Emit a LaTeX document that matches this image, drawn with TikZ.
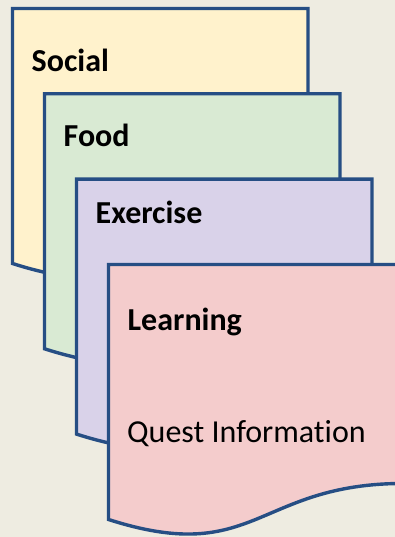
\documentclass[tikz,border=0pt]{standalone}
\usepackage{fontspec}
\newfontfamily\carlfont[Ligatures=CommonOff]{Carlito}
\definecolor{bgc}{HTML}{EEECE1}
\definecolor{edgec}{RGB}{38,78,132}
\definecolor{cyel}{HTML}{FFF2CC}
\definecolor{cgrn}{HTML}{D9EAD3}
\definecolor{cpur}{HTML}{D9D2E9}
\definecolor{cpnk}{HTML}{F4CCCC}
\tikzset{
  docshape/.style={draw=edgec, line width=3.4pt, line join=miter},
  lbl/.style={anchor=base west, inner sep=0pt, font=\carlfont\fontsize{32}{38}\selectfont\bfseries},
  txt/.style={anchor=base west, inner sep=0pt, font=\carlfont\fontsize{32}{38}\selectfont},
}
\newcommand{\docpath}[3]{% left, top, fill
  \pgfmathsetmacro{\dL}{#1}\pgfmathsetmacro{\dT}{#2}
  \pgfmathsetmacro{\dR}{#1+295.5}\pgfmathsetmacro{\dM}{#1+147.75}
  \pgfmathsetmacro{\dYr}{#2+0.802*273}\pgfmathsetmacro{\dYl}{#2+0.934*273}
  \pgfmathsetmacro{\dYc}{#2+1.1075*273}
  \path[docshape, fill=#3] (\dL,\dT) -- (\dR,\dT) -- (\dR,\dYr)
    .. controls (\dM,\dYr) and (\dM,\dYc) .. (\dL,\dYl) -- cycle;
}
\begin{document}
\begin{tikzpicture}[x=1pt,y=-1pt]
\fill[bgc] (0,0) rectangle (395,537);
\useasboundingbox (0,0) rectangle (395,537);
\clip (0,0) rectangle (395,537);
\docpath{12.5}{8.5}{cyel}
\node[lbl] (social) at (31.5,71.7) {Social};
\docpath{44.5}{93.8}{cgrn}
\node[lbl] (food) at (63.5,146.7) {Food};
\docpath{76.5}{179.1}{cpur}
\node[lbl] (exercise) at (95.5,223) {Exercise};
\docpath{108.5}{264.5}{cpnk}
\node[lbl] (learning) at (127.5,330) {Learning};
\node[txt] (quest) at (127,442.3) {Quest Information};
\end{tikzpicture}
\end{document}
